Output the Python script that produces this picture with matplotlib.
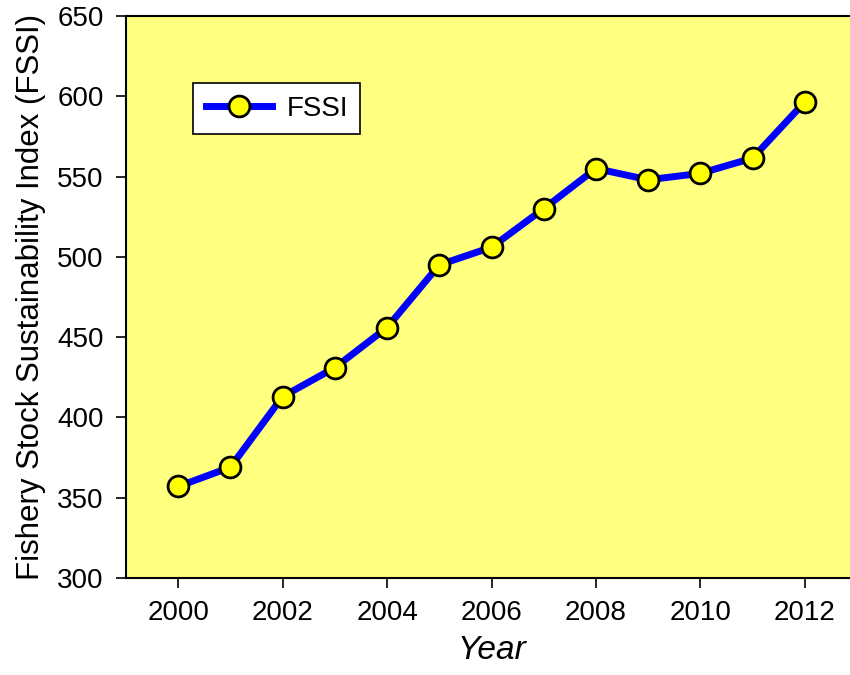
import matplotlib.pyplot as plt

years = [2000, 2001, 2002, 2003, 2004, 2005, 2006, 2007, 2008, 2009, 2010, 2011, 2012]
fssi = [357, 369, 413, 431, 456, 495, 506, 530, 555, 548, 552, 561.5, 596.5]

plt.rcParams['font.family'] = ['Liberation Sans', 'DejaVu Sans']

fig = plt.figure(figsize=(8.5, 6.75), dpi=100)
ax = fig.add_axes([126 / 850, 1 - 578 / 675, (857 - 126) / 850, (578 - 16) / 675])
ax.set_facecolor('#ffff80')

ax.plot(years, fssi, color='#0000ff', lw=5, marker='o', ms=15,
        mfc='#ffff00', mec='black', mew=2, label='FSSI')

ax.set_xlim(1999, 2013)
ax.set_ylim(300, 650)
ax.set_xticks(range(2000, 2013, 2))
ax.set_yticks(range(300, 651, 50))
ax.tick_params(direction='out', length=7, width=1.2, labelsize=20, pad=9)
for s in ax.spines.values():
    s.set_linewidth(1.5)

ax.set_xlabel('Year', fontsize=24, style='italic', labelpad=6)
ax.set_ylabel('Fishery Stock Sustainability Index (FSSI)', fontsize=22.5, labelpad=8)

leg = ax.legend(loc='upper left', bbox_to_anchor=(0.092, 0.88), fontsize=20,
                fancybox=False, edgecolor='black', framealpha=1,
                handlelength=2.4, borderpad=0.45, handletextpad=0.5,
                borderaxespad=0)
leg.get_frame().set_linewidth(1.2)

fig.savefig('out.png', dpi=100)
